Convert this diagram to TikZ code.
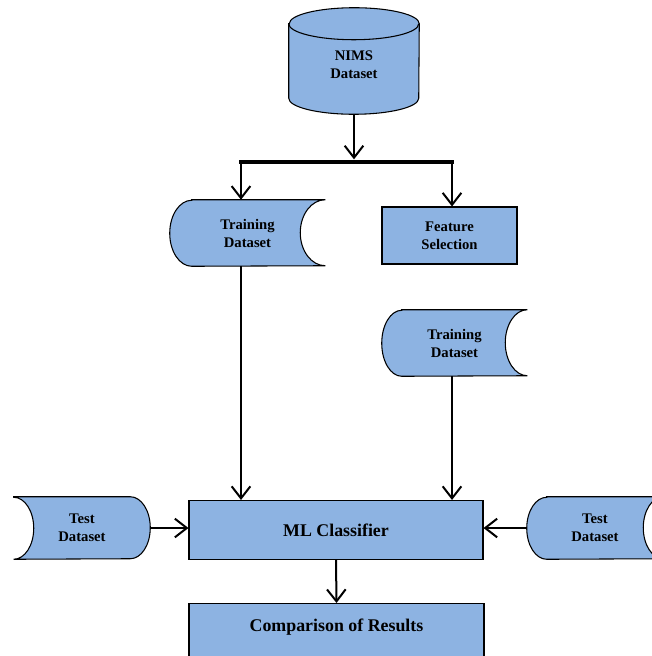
\documentclass[tikz,border=0pt]{standalone}
\usepackage{fontspec}
\setmainfont{Liberation Serif}
\usetikzlibrary{arrows.meta,backgrounds}
\definecolor{boxblue}{HTML}{8DB3E2}

\tikzset{
  blk/.style={draw, fill=boxblue, line width=0.8pt},
  txt/.style={inner sep=0pt, align=center, font=\fontsize{11}{13.5}\selectfont\bfseries},
  box/.style={blk, txt},
  bigtxt/.style={font=\fontsize{13.4}{16}\selectfont\bfseries},
  arr/.style={-{Straight Barb[length=9pt,width=14pt]}, line width=1.5pt},
}

\begin{document}
\begin{tikzpicture}[x=0.75pt, y=-0.75pt]
        \useasboundingbox (0,0) rectangle (652,656);

        % nodes
        \node[txt, minimum width=97.5pt, minimum height=79.5pt] (nims) at (354,61) {};
        \node[txt, text width=97.5pt] (nimslbl) at (354,64.5) {NIMS\\Dataset};
        \coordinate (splitL) at (241,162);
        \coordinate (splitR) at (452,162);
        \node[txt, minimum width=116.25pt, minimum height=49.5pt] (td1) at (247.5,233) {Training\\Dataset};
        \node[box, minimum width=101.25pt, minimum height=42.75pt] (feat) at (449.5,235.5) {Feature\\Selection};
        \node[txt, minimum width=108.75pt, minimum height=49.5pt] (td2) at (454.5,343) {Training\\Dataset};
        \node[box, bigtxt, minimum width=220.5pt, minimum height=44.25pt] (ml) at (336,530) {ML Classifier};
        \node[txt, minimum width=102pt, minimum height=46.5pt] (testL) at (82,528) {Test\\Dataset};
        \node[txt, minimum width=102pt, minimum height=46.5pt] (testR) at (595,528) {Test\\Dataset};
        \node[box, minimum width=221.25pt, minimum height=45pt, anchor=north] (comp) at (336.5,603) {};
        \node[txt, bigtxt] (complbl) at (336.5,627) {Comparison of Results};

        % shapes behind the texts
        \begin{scope}[on background layer]
            \draw[blk] ([yshift=-12pt]nims.north west) -- ([yshift=12pt]nims.south west)
                arc[start angle=180, end angle=360, x radius=48.75pt, y radius=12pt]
                -- ([yshift=-12pt]nims.north east)
                arc[start angle=0, end angle=180, x radius=48.75pt, y radius=12pt] -- cycle;
            \draw[line width=0.8pt] ([yshift=-12pt]nims.north west)
                arc[start angle=180, end angle=360, x radius=48.75pt, y radius=12pt];

            \draw[blk] ([xshift=16.5pt]td1.north west) -- (td1.north east)
                arc[start angle=90, end angle=270, x radius=18.75pt, y radius=24.75pt]
                -- ([xshift=16.5pt]td1.south west)
                arc[start angle=270, end angle=90, x radius=16.5pt, y radius=24.75pt] -- cycle;
            \draw[blk] ([xshift=15pt]td2.north west) -- (td2.north east)
                arc[start angle=90, end angle=270, x radius=16.5pt, y radius=24.75pt]
                -- ([xshift=15pt]td2.south west)
                arc[start angle=270, end angle=90, x radius=15pt, y radius=24.75pt] -- cycle;

            \draw[blk] (testL.north west) -- ([xshift=-15pt]testL.north east)
                arc[start angle=90, end angle=-90, x radius=15pt, y radius=23.25pt]
                -- (testL.south west)
                arc[start angle=-90, end angle=90, x radius=15pt, y radius=23.25pt] -- cycle;
            \draw[blk] ([xshift=15pt]testR.north west) -- (testR.north east)
                arc[start angle=90, end angle=270, x radius=15pt, y radius=23.25pt]
                -- ([xshift=15pt]testR.south west)
                arc[start angle=270, end angle=90, x radius=15pt, y radius=23.25pt] -- cycle;
        \end{scope}

        % connectors
        \draw[arr, shorten >=2pt] (nims.south) -- (nims.south |- splitL);
        \draw[line width=3pt, line cap=rect] (splitL) -- (splitR);
        \draw[arr] (splitL) -- (splitL |- td1.north);
        \draw[arr] (splitR) -- (splitR |- feat.north);
        \draw[arr] (td1.south -| splitL) -- (ml.north -| splitL);
        \draw[arr] (td2.south -| splitR) -- (ml.north -| splitR);
        \draw[arr] (testL.east) -- (testL.east -| ml.west);
        \draw[arr] (testR.west) -- (testR.west -| ml.east);
        \draw[arr] (ml.south) -- (comp.north);

    \end{tikzpicture}
\end{document}
